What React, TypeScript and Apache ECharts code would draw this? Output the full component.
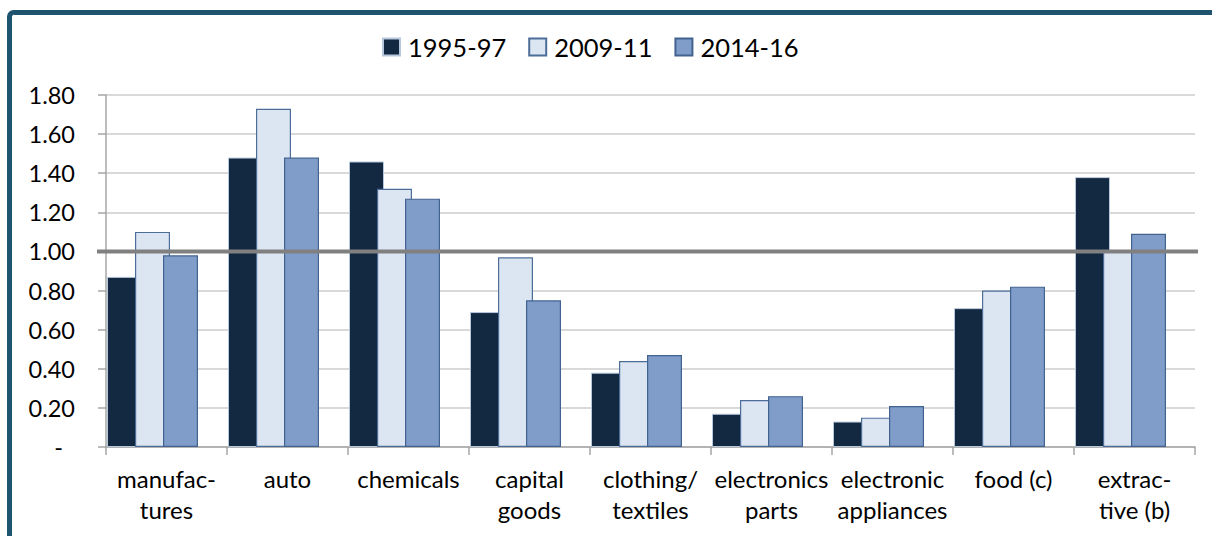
import React, { useEffect, useRef } from "react";
import * as echarts from "echarts";

const categories = [
  "manufac-\ntures",
  "auto",
  "chemicals",
  "capital\ngoods",
  "clothing/\ntextiles",
  "electronics\nparts",
  "electronic\nappliances",
  "food (c)",
  "extrac-\ntive (b)",
];
const seriesNames = ["1995-97", "2009-11", "2014-16"];
const s1995 = [0.87, 1.48, 1.46, 0.69, 0.38, 0.17, 0.13, 0.71, 1.38];
const s2009 = [1.10, 1.73, 1.32, 0.97, 0.44, 0.24, 0.15, 0.80, 1.00];
const s2014 = [0.98, 1.48, 1.27, 0.75, 0.47, 0.26, 0.21, 0.82, 1.09];
const referenceValue = 1.0;
const yMin = 0;
const yMax = 1.8;
const yInterval = 0.2;

const FONT = "Lato, 'Open Sans', sans-serif";

export default function App() {
  const ref = useRef<HTMLDivElement>(null);
  useEffect(() => {
    if (!ref.current) return;
    const chart = echarts.init(ref.current, undefined, { renderer: "svg" });
    const barCommon = {
      type: "bar",
      barWidth: 35,
      barGap: "-20%",
    };
    chart.setOption({
      animation: false,
      backgroundColor: "#ffffff",
      textStyle: { fontFamily: FONT, color: "#000" },
      graphic: [
        {
          type: "rect",
          shape: { x: 9.5, y: 12.5, width: 1400, height: 800, r: 4 },
          style: { fill: "none", stroke: "#1e5470", lineWidth: 5 },
          z: 100,
        },
      ],
      legend: {
        data: seriesNames,
        left: 377,
        top: 29,
        icon: "rect",
        itemWidth: 17,
        itemHeight: 17,
        itemGap: 22,
        textStyle: { fontFamily: FONT, fontSize: 25.5, color: "#000", padding: [0, 0, 0, 3] },
      },
      grid: { left: 106, right: 17, top: 95, bottom: 89, containLabel: false },
      xAxis: {
        type: "category",
        data: categories,
        axisLine: { lineStyle: { color: "#a6a6a6", width: 1.5 } },
        axisTick: { show: true, length: 8, lineStyle: { color: "#a6a6a6", width: 1.5 } },
        axisLabel: {
          interval: 0,
          margin: 16,
          fontFamily: FONT,
          fontSize: 24,
          lineHeight: 31,
          color: "#000",
        },
      },
      yAxis: {
        type: "value",
        min: yMin,
        max: yMax,
        interval: yInterval,
        axisLine: { show: true, lineStyle: { color: "#a6a6a6", width: 1.5 } },
        axisTick: { show: true, length: 8, lineStyle: { color: "#a6a6a6", width: 1.5 } },
        splitLine: { lineStyle: { color: "#cccccc", width: 1.5 } },
        axisLabel: {
          margin: 31,
          fontFamily: FONT,
          fontSize: 23.5,
          color: "#000",
          formatter: (v: number) => (Math.abs(v) < 1e-9 ? "{d|-}" : v.toFixed(2)),
          rich: { d: { fontFamily: FONT, fontSize: 23.5, color: "#000", padding: [0, 12, 0, 0] } },
        },
      },
      series: [
        {
          ...barCommon,
          name: seriesNames[0],
          data: s1995,
          itemStyle: { color: "#132841", borderColor: "#b8c8dc", borderWidth: 1 },
        },
        {
          ...barCommon,
          name: seriesNames[1],
          data: s2009,
          itemStyle: { color: "#dce6f2", borderColor: "#4d6d99", borderWidth: 1.2 },
        },
        {
          ...barCommon,
          name: seriesNames[2],
          data: s2014,
          itemStyle: { color: "#7f9dc8", borderColor: "#42628f", borderWidth: 1.2 },
        },
        {
          ...barCommon,
          name: "spacer",
          data: categories.map(() => null),
          itemStyle: { color: "transparent" },
        },
        {
          type: "custom",
          name: "reference",
          z: 10,
          data: [[0, referenceValue]],
          renderItem: (params: any, api: any) => {
            const p = api.coord([0, api.value(1)]);
            const cs = params.coordSys;
            return {
              type: "line",
              shape: { x1: cs.x - 9, y1: p[1], x2: cs.x + cs.width + 3, y2: p[1] },
              style: { stroke: "#808080", lineWidth: 4 },
            };
          },
        },
      ],
    });
    return () => chart.dispose();
  }, []);
  return (
    <div
      ref={ref}
      style={{ position: "fixed", left: 0, top: 0, width: 1212, height: 536 }}
    />
  );
}
